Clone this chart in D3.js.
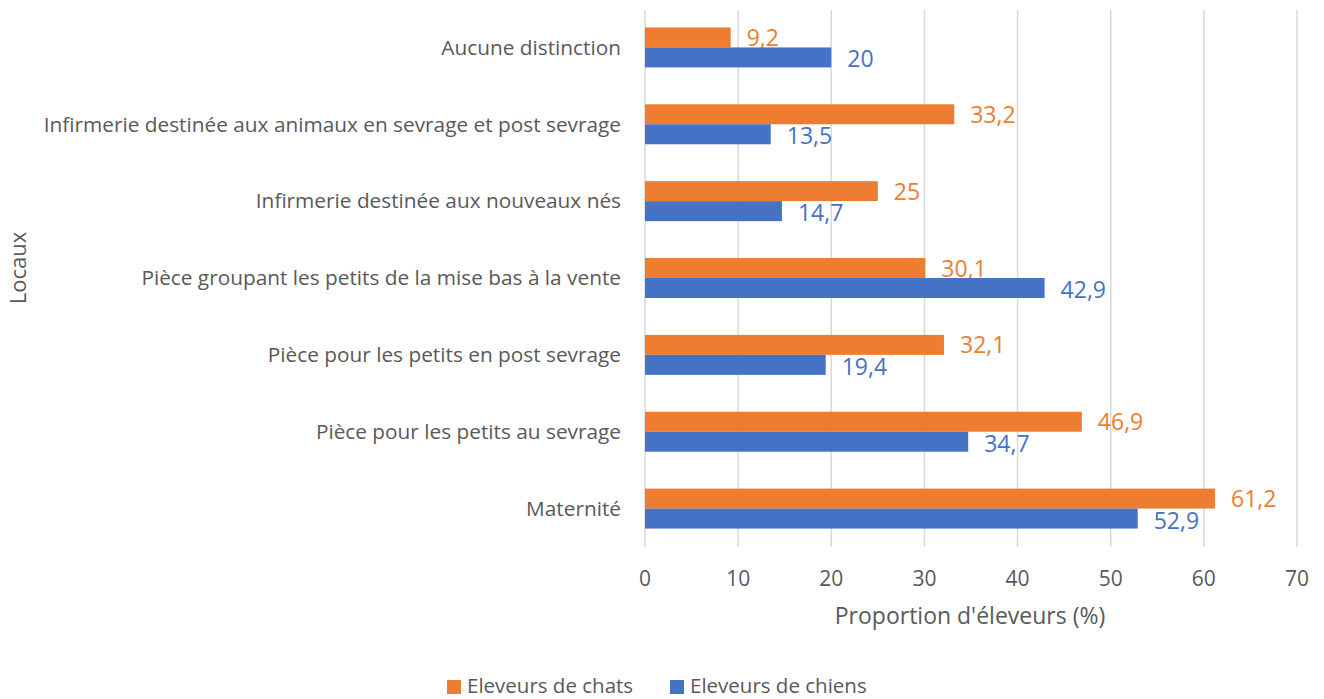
<!DOCTYPE html>
<html>
<head>
<meta charset="utf-8">
<script src="https://cdn.jsdelivr.net/npm/d3@7"></script>
<style>
  body { margin: 0; background: #fff; }
  svg text { font-family: "Open Sans", sans-serif; }
</style>
</head>
<body>
<svg id="chart" width="1324" height="699"></svg>
<script>
// categories, top to bottom
var categories = [
  'Aucune distinction',
  'Infirmerie destinée aux animaux en sevrage et post sevrage',
  'Infirmerie destinée aux nouveaux nés',
  'Pièce groupant les petits de la mise bas à la vente',
  'Pièce pour les petits en post sevrage',
  'Pièce pour les petits au sevrage',
  'Maternité'
];
var chats = [9.2, 33.2, 25, 30.1, 32.1, 46.9, 61.2];
var chiens = [20, 13.5, 14.7, 42.9, 19.4, 34.7, 52.9];
var seriesNames = ['Eleveurs de chats', 'Eleveurs de chiens'];
var colors = ['#ed7d31', '#4472c4'];
var xTicks = [0, 10, 20, 30, 40, 50, 60, 70];

var svg = d3.select('#chart');
var plotLeft = 645, plotRight = 1297, plotTop = 9, plotBottom = 547;

var x = d3.scaleLinear().domain([0, 70]).range([plotLeft, plotRight]);
var y = d3.scaleBand().domain(categories).range([plotTop, plotBottom]).paddingInner(0.48).paddingOuter(0.24);
var sub = d3.scaleBand().domain([0, 1]).range([0, y.bandwidth()]);

var fmt = function(v) { return String(v).replace('.', ','); };

// gridlines
svg.append('g').selectAll('line').data(xTicks).enter().append('line')
  .attr('x1', function(d) { return x(d); }).attr('x2', function(d) { return x(d); })
  .attr('y1', plotTop + 1).attr('y2', plotBottom)
  .attr('stroke', '#d9d9d9').attr('stroke-width', 1.5);

// x axis tick labels
svg.append('g').selectAll('text').data(xTicks).enter().append('text')
  .attr('x', function(d) { return x(d); }).attr('y', 586)
  .attr('text-anchor', 'middle').attr('fill', '#595959').attr('font-size', 21)
  .text(function(d) { return d; });

// category labels
svg.append('g').selectAll('text').data(categories).enter().append('text')
  .attr('x', 621).attr('y', function(d) { return y(d) + y.bandwidth() / 2; })
  .attr('dy', '0.35em').attr('text-anchor', 'end').attr('fill', '#595959').attr('font-size', 20.8)
  .text(function(d) { return d; });

[chats, chiens].forEach(function(vals, s) {
  var g = svg.append('g');
  g.selectAll('rect').data(vals).enter().append('rect')
    .attr('x', x(0))
    .attr('y', function(d, i) { return y(categories[i]) + sub(s); })
    .attr('width', function(d) { return x(d) - x(0); })
    .attr('height', sub.bandwidth())
    .attr('fill', colors[s]);
  g.selectAll('text').data(vals).enter().append('text')
    .attr('x', function(d) { return x(d) + 16; })
    .attr('y', function(d, i) { return y(categories[i]) + sub(s) + sub.bandwidth() / 2 + (s ? 2 : 0.5); })
    .attr('dy', '0.35em').attr('fill', colors[s]).attr('font-size', 23)
    .text(fmt);
});

// axis titles
svg.append('text').attr('x', 970).attr('y', 624).attr('text-anchor', 'middle')
  .attr('fill', '#595959').attr('font-size', 23).text("Proportion d'éleveurs (%)");
svg.append('text').attr('transform', 'translate(26,268) rotate(-90)').attr('text-anchor', 'middle')
  .attr('fill', '#595959').attr('font-size', 22).text('Locaux');

// legend
var leg = svg.append('g');
var legX = [447, 670];
seriesNames.forEach(function(n, i) {
  leg.append('rect').attr('x', legX[i]).attr('y', 680).attr('width', 14).attr('height', 14).attr('fill', colors[i]);
  leg.append('text').attr('x', legX[i] + 20).attr('y', 693)
    .attr('fill', '#595959').attr('font-size', 20.5).text(n);
});
</script>
</body>
</html>
